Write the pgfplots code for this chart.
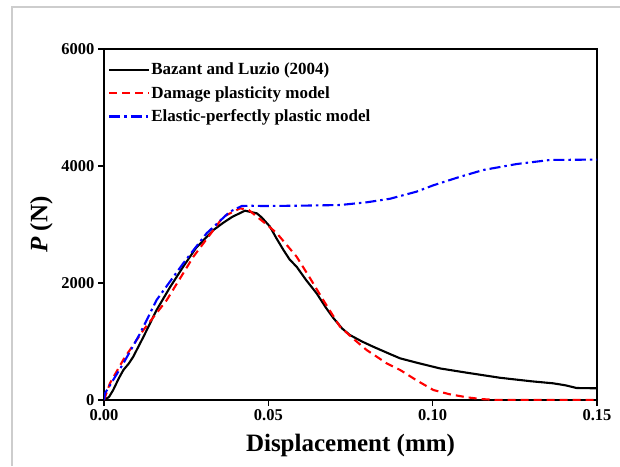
\documentclass[border=0pt]{standalone}
\usepackage{pgfplots}
\pgfplotsset{compat=1.18}
\usepackage{fontspec}
\setmainfont{Liberation Serif}
\definecolor{frameg}{RGB}{205,205,205}
\begin{document}
\begin{tikzpicture}[x=1pt,y=1pt]
\useasboundingbox (0,0) rectangle (620,466);
\draw[frameg,line width=1.2pt] (12,0) -- (12,459) -- (620,459);
\begin{axis}[
  at={(104pt,66pt)}, anchor=south west,
  scale only axis, width=493pt, height=351pt,
  xmin=0, xmax=0.15, ymin=0, ymax=6000,
  xtick={0,0.05,0.1,0.15}, ytick={0,2000,4000,6000},
  scaled x ticks=false, scaled y ticks=false,
  xticklabel style={/pgf/number format/.cd, fixed, fixed zerofill, precision=2},
  yticklabel style={/pgf/number format/1000 sep={}},
  /pgf/number format/assume math mode=true,
  tick label style={font=\bfseries\fontsize{16.5}{16.5}\selectfont},
  tick align=outside, tick pos=left, major tick length=6pt,
  axis line style={line width=1.6pt}, every tick/.style={line width=1.6pt, black},
  xlabel={\bfseries Displacement (mm)}, ylabel={\bfseries\textit{P} (N)},
  label style={font=\bfseries\fontsize{25}{25}\selectfont},
  xlabel style={yshift=-7pt}, ylabel style={yshift=2pt},
  legend style={at={(0,1)}, anchor=north west, xshift=4pt, yshift=-13pt, draw=none, fill=none,
    font=\bfseries\fontsize{17}{17}\selectfont, row sep=8pt, inner sep=0pt,
    nodes={inner sep=1pt}},
  legend cell align=left,
  legend image code/.code={\draw[#1] (0pt,0pt) -- (40pt,0pt);},
]
\addplot[black, line width=2.1pt, line join=round] coordinates {
(0,0) (0.0015,50) (0.0028,171) (0.0045,370) (0.0059,513) (0.0075,620) (0.0089,740)
(0.012,1080) (0.016,1538) (0.020,1920) (0.0241,2279) (0.028,2600) (0.0333,2906)
(0.0363,3030) (0.039,3130) (0.0429,3236) (0.0465,3191) (0.048,3120) (0.0505,2963)
(0.0525,2760) (0.0546,2564) (0.0565,2400) (0.0586,2279) (0.0615,2050) (0.0647,1823)
(0.0675,1580) (0.0698,1400) (0.0725,1220) (0.0748,1111) (0.0785,1000) (0.0819,911)
(0.087,786) (0.0901,712) (0.095,640) (0.1022,540) (0.11,470) (0.1205,380) (0.13,320)
(0.1367,285) (0.1405,250) (0.1438,205) (0.15,200)};
\addlegendentry{Bazant and Luzio (2004)}
\addplot[red, line width=2.1pt, dash pattern=on 8pt off 5pt] coordinates {
(0,0) (0.0018,285) (0.006,700) (0.012,1197) (0.0191,1709) (0.0272,2450) (0.0333,2906)
(0.0363,3134) (0.0414,3276) (0.0440,3250) (0.0465,3134) (0.0495,3000) (0.0526,2849)
(0.0556,2650) (0.0586,2450) (0.0625,2100) (0.0667,1709) (0.0718,1253) (0.0760,1040)
(0.0799,855) (0.086,627) (0.0901,513) (0.095,340) (0.1002,171) (0.105,100) (0.1104,46)
(0.115,15) (0.12,0) (0.15,0)};
\addlegendentry{Damage plasticity model}
\addplot[blue, line width=2.1pt, dash pattern=on 11pt off 4pt on 2.5pt off 4pt] coordinates {
(0,0) (0.0003,114) (0.0059,627) (0.011,1140) (0.016,1709) (0.0241,2336) (0.0312,2849)
(0.0383,3219) (0.0419,3316) (0.045,3320) (0.0485,3316) (0.06,3322) (0.0718,3333)
(0.08,3380) (0.087,3440) (0.095,3560) (0.1002,3670) (0.108,3810) (0.1154,3932)
(0.1256,4034) (0.1357,4103) (0.15,4110)};
\addlegendentry{Elastic-perfectly plastic model}
\end{axis}
\end{tikzpicture}
\end{document}
